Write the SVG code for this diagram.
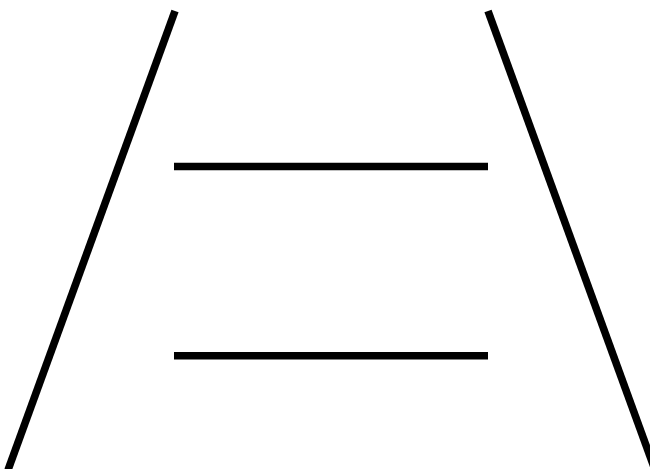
<svg xmlns="http://www.w3.org/2000/svg" width="650" height="469" viewBox="0 0 650 469">
<style>
.l{stroke:#000;stroke-width:7.6;fill:none;stroke-linecap:butt}
</style>
<rect width="650" height="469" fill="#fff"/>
<g id="rails">
<line class="l" x1="175" y1="11" x2="8" y2="470"/>
<line class="l" x1="488" y1="11" x2="655" y2="470"/>
</g>
<g id="bars">
<line class="l" x1="174" y1="166.5" x2="488" y2="166.5"/>
<line class="l" x1="174" y1="355.8" x2="488" y2="355.8"/>
</g>
</svg>
